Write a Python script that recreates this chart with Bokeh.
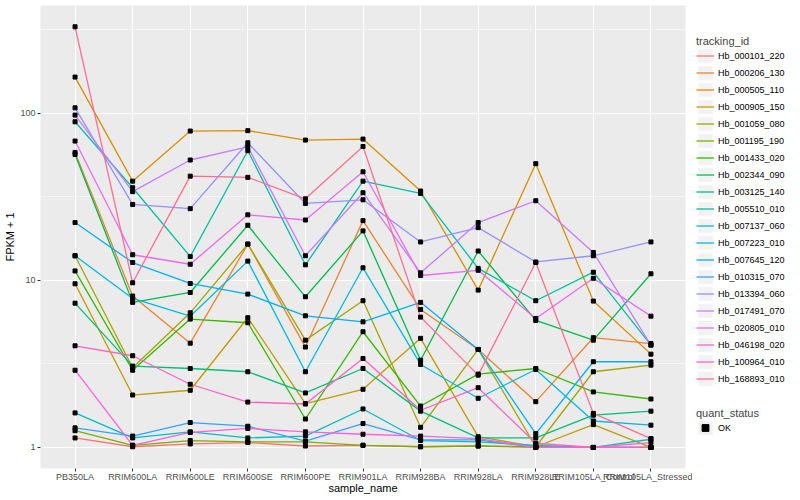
from bokeh.plotting import figure
from bokeh.layouts import row
from bokeh.models import FactorRange, Range1d, FixedTicker, Legend, LegendItem
from bokeh.embed import file_html
from bokeh.resources import INLINE

samples = ["PB350LA", "RRIM600LA", "RRIM600LE", "RRIM600SE", "RRIM600PE", "RRIM901LA",
           "RRIM928BA", "RRIM928LA", "RRIM928LE", "RRIM105LA_Control", "RRIM105LA_Stressed"]

tracking_ids = ["Hb_000101_220", "Hb_000206_130", "Hb_000505_110", "Hb_000905_150", "Hb_001059_080",
                "Hb_001195_190", "Hb_001433_020", "Hb_002344_090", "Hb_003125_140", "Hb_005510_010",
                "Hb_007137_060", "Hb_007223_010", "Hb_007645_120", "Hb_010315_070", "Hb_013394_060",
                "Hb_017491_070", "Hb_020805_010", "Hb_046198_020", "Hb_100964_010", "Hb_168893_010"]

# FPKM + 1 per sample
hb_000101_220 = [1.14, 1.01, 1.05, 1.07, 1.02, 1.03, 1.01, 1.02, 1.0, 1.0, 1.0]
hb_000206_130 = [58.4, 8.06, 4.21, 16.5, 3.99, 22.8, 6.70, 3.86, 1.88, 4.54, 4.19]
hb_000505_110 = [165, 39.3, 78.4, 78.8, 69.2, 70.2, 34.3, 8.75, 50.0, 7.52, 3.62]
hb_000905_150 = [9.55, 2.06, 2.20, 5.98, 1.83, 2.23, 4.50, 1.16, 1.01, 1.37, 1.0]
hb_001059_080 = [14.05, 3.00, 6.40, 16.5, 4.39, 7.56, 1.32, 3.86, 1.01, 2.84, 3.11]
hb_001195_190 = [1.26, 1.03, 1.10, 1.08, 1.08, 1.03, 1.01, 1.02, 1.01, 1.0, 1.0]
hb_001433_020 = [11.4, 2.90, 5.87, 5.58, 1.48, 4.93, 1.77, 2.75, 2.97, 2.15, 1.95]
hb_002344_090 = [56.8, 7.39, 8.47, 21.4, 7.98, 19.8, 3.33, 15.0, 5.76, 4.39, 10.96]
hb_003125_140 = [7.31, 3.07, 2.97, 2.84, 2.12, 2.97, 1.65, 1.14, 1.14, 1.56, 1.65]
hb_005510_010 = [89.1, 35.9, 13.9, 59.8, 12.4, 39.3, 33.2, 11.8, 7.56, 11.2, 4.10]
hb_007137_060 = [1.61, 1.14, 1.24, 1.14, 1.17, 1.70, 1.10, 1.08, 1.03, 1.0, 1.12]
hb_007223_010 = [14.05, 7.80, 6.11, 13.05, 2.84, 11.9, 3.14, 1.97, 2.93, 1.44, 1.36]
hb_007645_120 = [22.2, 12.8, 9.59, 8.28, 6.14, 5.65, 7.39, 3.86, 1.21, 3.26, 3.26]
hb_010315_070 = [1.31, 1.17, 1.41, 1.34, 1.09, 1.39, 1.11, 1.11, 1.0, 1.0, 1.0]
hb_013394_060 = [108, 28.5, 26.9, 66.7, 28.9, 30.4, 17.0, 20.7, 12.9, 14.05, 17.0]
hb_017491_070 = [97.7, 34.0, 52.6, 63.1, 14.05, 33.5, 11.1, 22.2, 30.0, 14.7, 4.10]
hb_020805_010 = [68.3, 14.25, 12.5, 24.7, 23.0, 44.7, 10.7, 11.5, 5.92, 10.3, 6.11]
hb_046198_020 = [2.90, 1.03, 1.23, 1.30, 1.24, 1.20, 1.17, 1.13, 1.0, 1.0, 1.0]
hb_100964_010 = [4.06, 3.54, 2.39, 1.87, 1.82, 3.41, 1.67, 2.28, 1.06, 1.0, 1.07]
hb_168893_010 = [330, 9.68, 42.1, 41.4, 30.8, 63.4, 6.03, 2.71, 12.8, 1.60, 1.13]

series_values = [hb_000101_220, hb_000206_130, hb_000505_110, hb_000905_150, hb_001059_080,
                 hb_001195_190, hb_001433_020, hb_002344_090, hb_003125_140, hb_005510_010,
                 hb_007137_060, hb_007223_010, hb_007645_120, hb_010315_070, hb_013394_060,
                 hb_017491_070, hb_020805_010, hb_046198_020, hb_100964_010, hb_168893_010]

colors = ["#F8766D", "#EA8331", "#D89000", "#C09B00", "#A3A500", "#7CAE00", "#39B600", "#00BB4E",
          "#00BF7D", "#00C1A3", "#00BFC4", "#00BAE0", "#00B0F6", "#35A2FF", "#9590FF", "#C77CFF",
          "#E76BF3", "#FA62DB", "#FF62BC", "#FF6C91"]

y_ticks = [1, 10, 100]
y_tick_labels = ["1", "10", "100"]
quant_status = ["OK"]

FONT = "Liberation Sans"
H = 498

p = figure(width=692, height=H,
           x_range=FactorRange(factors=samples, range_padding=0.1, range_padding_units="absolute"),
           y_range=Range1d(10 ** -0.126, 10 ** 2.646), y_axis_type="log",
           output_backend="svg", toolbar_location=None,
           min_border_left=40, min_border_right=7, min_border_top=5, min_border_bottom=30,
           background_fill_color="#EBEBEB", border_fill_color="white", outline_line_color=None)

ticker = FixedTicker(ticks=y_ticks, minor_ticks=[10 ** 0.5, 10 ** 1.5, 10 ** 2.5])
p.yaxis.ticker = ticker
p.ygrid.ticker = ticker
p.yaxis.major_label_overrides = {t: l for t, l in zip(y_ticks, y_tick_labels)}

for ax in (p.xaxis[0], p.yaxis[0]):
    ax.axis_line_color = None
    ax.major_tick_line_color = "#333333"
    ax.major_tick_out = 3
    ax.major_tick_in = 0
    ax.minor_tick_line_color = None
    ax.major_label_text_color = "#4D4D4D"
    ax.major_label_text_font = FONT
    ax.major_label_text_font_size = "9px"
    ax.axis_label_text_font = FONT
    ax.axis_label_text_font_size = "11px"
    ax.axis_label_text_font_style = "normal"
    ax.axis_label_text_color = "black"

p.xaxis.axis_label = "sample_name"
p.xaxis.major_label_standoff = 0
p.xaxis.axis_label_standoff = -3
p.yaxis.axis_label = "FPKM + 1"
p.yaxis.major_label_standoff = 1
p.yaxis.axis_label_standoff = 1

p.xgrid.grid_line_color = "white"
p.xgrid.grid_line_width = 1.1
p.ygrid.grid_line_color = "white"
p.ygrid.grid_line_width = 1.1
p.ygrid.minor_grid_line_color = "white"
p.ygrid.minor_grid_line_width = 0.55

for vals, col in zip(series_values, colors):
    p.line(x=samples, y=vals, line_color=col, line_width=1.3)

for vals in series_values:
    p.scatter(x=samples, y=vals, marker="square", size=4, fill_color="black", line_color="black")

# legend panel (its frame is aligned with the main frame by the row layout)
pl = figure(width=104, height=H, x_range=Range1d(0, 1), y_range=Range1d(0, 1),
            x_axis_location=None, y_axis_location=None, output_backend="svg",
            toolbar_location=None, min_border=0, outline_line_color=None,
            background_fill_color="white", border_fill_color="white")
for g in pl.grid:
    g.visible = False

# off-frame dummy data so the legend glyphs are drawn
keybg = pl.quad(left=[5], right=[6], top=[6], bottom=[5], fill_color="#F2F2F2", line_color=None)
items = []
for tid, col in zip(tracking_ids, colors):
    r = pl.line(x=[5, 6], y=[5, 6], line_color=col, line_width=1.3)
    items.append(LegendItem(label=tid, renderers=[keybg, r]))
pt = pl.scatter(x=[5], y=[5], marker="square", size=4, fill_color="black", line_color="black")


def style_legend(leg):
    leg.padding = 0
    leg.margin = 0
    leg.spacing = 0
    leg.glyph_width = 18
    leg.glyph_height = 17
    leg.label_height = 17
    leg.label_standoff = 4
    leg.border_line_color = None
    leg.background_fill_alpha = 0
    leg.title_standoff = 0
    leg.title_text_font = FONT
    leg.title_text_font_size = "11px"
    leg.title_text_font_style = "normal"
    leg.label_text_font = FONT
    leg.label_text_font_size = "9px"
    leg.label_text_color = "black"


# locations are measured from the bottom of the (aligned) frame at y = 468
leg1 = Legend(items=items, title="tracking_id", location=(4, 81))
style_legend(leg1)
pl.add_layout(leg1)

leg2 = Legend(items=[LegendItem(label=quant_status[0], renderers=[keybg, pt])],
              title="quant_status", location=(4, 32))
style_legend(leg2)
pl.add_layout(leg2)

layout = row(p, pl)
open("out.html", "w").write(file_html(layout, INLINE))
